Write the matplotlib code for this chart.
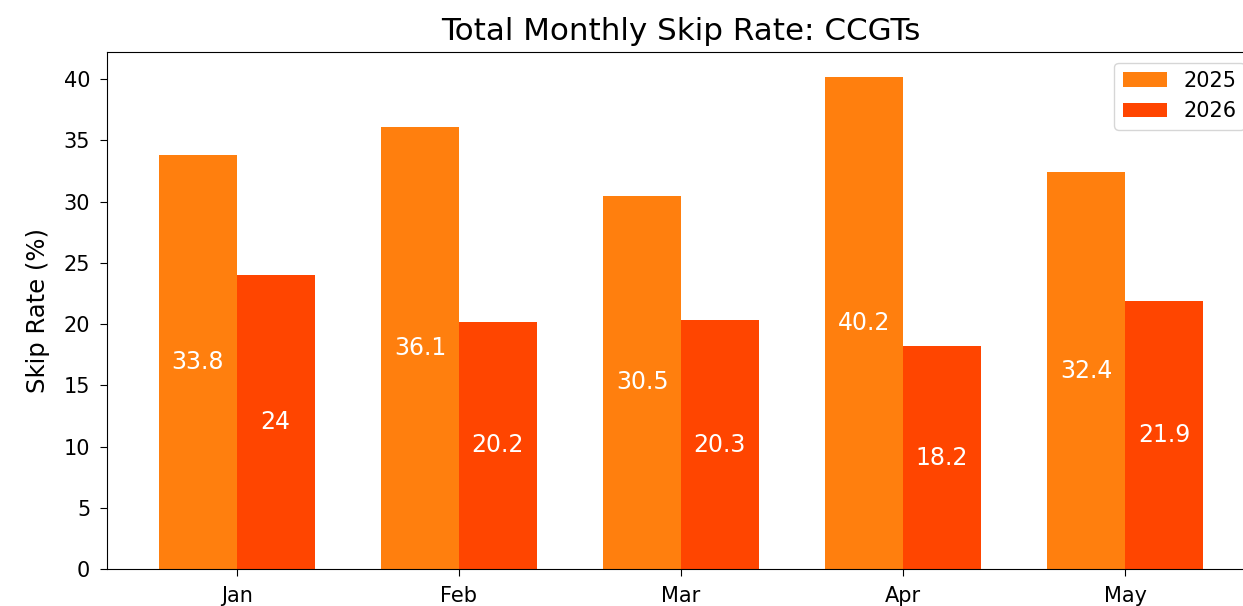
import matplotlib.pyplot as plt
import numpy as np

months = ["Jan", "Feb", "Mar", "Apr", "May"]
skip_2025 = [33.8, 36.1, 30.5, 40.2, 32.4]
skip_2026 = [24, 20.2, 20.3, 18.2, 21.9]

fig, ax = plt.subplots(figsize=(12.43, 6.06), dpi=100)
x = np.arange(len(months))
width = 0.35

b1 = ax.bar(x - width / 2, skip_2025, width, color="#ff7f0e", label="2025")
b2 = ax.bar(x + width / 2, skip_2026, width, color="#ff4500", label="2026")
ax.bar_label(b1, label_type="center", color="white", fontsize=17)
ax.bar_label(b2, label_type="center", color="white", fontsize=17)

ax.set_xticks(x)
ax.set_xticklabels(months)
ax.tick_params(labelsize=15, length=5, pad=7)
ax.set_ylabel("Skip Rate (%)", fontsize=17.5, labelpad=10)
ax.set_title("Total Monthly Skip Rate: CCGTs", fontsize=22.3, pad=9)
ax.legend(fontsize=15, handlelength=2.1)

# the reference is cropped on the right, so the axes run past the edge
fig.subplots_adjust(left=0.086, right=1.0097, top=0.914, bottom=0.061)
fig.savefig("out.png")
